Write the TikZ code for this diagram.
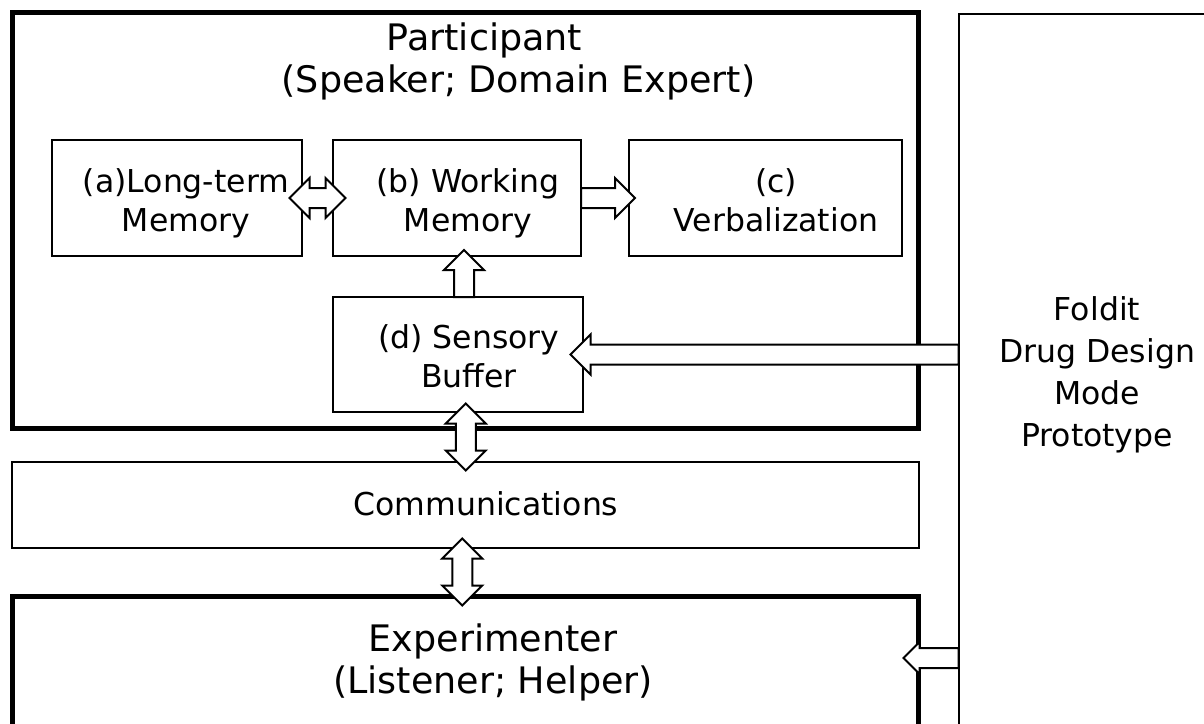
\documentclass[tikz,border=0pt]{standalone}
\usepackage{fontspec}
\setmainfont{DejaVu Sans}
\usetikzlibrary{shapes.arrows,calc}

\begin{document}
\begin{tikzpicture}[x=1pt,y=-1pt,
  box/.style={draw,line width=2pt,fill=white,inner sep=0pt,outer sep=0pt},
  bigbox/.style={draw,line width=5pt,inner sep=0pt,outer sep=0pt},
  txt/.style={align=center,anchor=base,inner sep=0pt,font=\fontsize{31.5pt}{39pt}\selectfont},
  titletext/.style={align=center,anchor=base,inner sep=0pt,font=\fontsize{36.5pt}{42pt}\selectfont},
  onearrow/.style={single arrow,draw,line width=2pt,fill=white,inner xsep=0pt,inner ysep=9pt,
    single arrow head extend=10pt,minimum width=0pt,outer sep=0pt},
  twoarrow/.style={double arrow,draw,line width=2pt,fill=white,inner xsep=0pt,inner ysep=9pt,
    double arrow head extend=10pt,minimum width=0pt,outer sep=0pt}]
\clip (0,0) rectangle (1204,723);
\fill[white] (0,0) rectangle (1204,723);

\node[bigbox,minimum width=906,minimum height=416] (part) at (465,220) {};
\node[box,minimum width=907,minimum height=86] (comms) at (465.5,505) {};
\node[bigbox,minimum width=906,minimum height=204] (exp) at (465,698) {};
\node[box,minimum width=273.5,minimum height=786] (rbox) at (1095.25,407) {};

\node[box,minimum width=250,minimum height=116] (la) at (177,198) {};
\node[box,minimum width=248,minimum height=116] (wm) at (457,198) {};
\node[box,minimum width=273,minimum height=116] (vb) at (765.5,198) {};
\node[box,minimum width=250,minimum height=115] (sb) at (458,354.5) {};

% base anchor sits on the last line
\node[titletext] (parttxt) at (518.5,92) {Participant\kern68pt\\(Speaker; Domain Expert)};
\node[titletext] (exptxt) at (493,693) {Experimenter\\(Listener; Helper)};
\node[txt] (commstxt) at (486,515) {Communications};
\node[txt] (latxt) at (186,231) {(a)Long-term\\Memory};
\node[txt] (wmtxt) at (468,231) {(b) Working\\Memory};
\node[txt] (vbtxt) at (776,231) {(c)\\Verbalization};
\node[txt] (sbtxt) at (469,387) {(d) Sensory\\Buffer};
\node[txt,font=\fontsize{31.5pt}{41.7pt}\selectfont] (prototxt) at (1097,446)
  {Foldit\\Drug Design\\Mode\\Prototype};

\node[twoarrow,minimum height=56] (ab) at ($(la.east)!0.5!(wm.west)$) {};
\node[onearrow,anchor=tail,minimum height=54] (bc) at (wm.east) {};
\node[onearrow,rotate=90,anchor=tail,minimum height=47] (dup) at ($(sb.north)+(6,0)$) {};
\node[onearrow,shape border rotate=180,anchor=tail,minimum height=388] (tosb) at (rbox.west |- sb.east) {};
\node[twoarrow,rotate=90,minimum height=67] (dc) at ($(sb.south)!0.5!(comms.north)+(4,0)$) {};
\node[twoarrow,rotate=90,minimum height=67] (ce) at ($(comms.south)!0.5!(exp.north)+(-3,0)$) {};
\node[onearrow,shape border rotate=180,anchor=tail,minimum height=55,single arrow head extend=6pt] (toexp) at (rbox.west |- 0,658) {};
\end{tikzpicture}
\end{document}
